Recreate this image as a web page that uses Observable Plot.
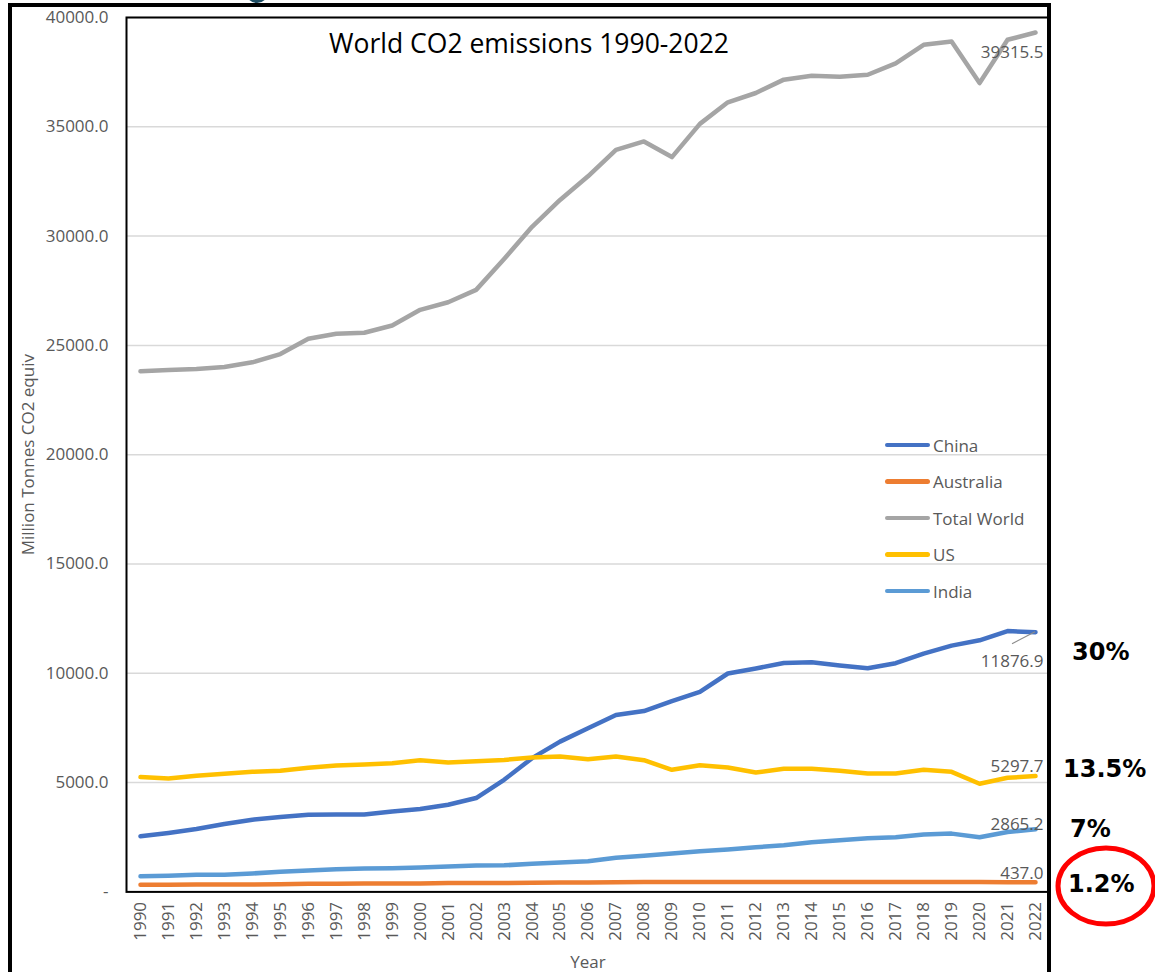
<!DOCTYPE html>
<html>
<head>
<meta charset="utf-8">
<script src="https://cdn.jsdelivr.net/npm/d3@7"></script>
<script src="https://cdn.jsdelivr.net/npm/@observablehq/plot@0.6"></script>
<style>
  body { margin: 0; background: #fff; overflow: hidden; font-family: "Open Sans", sans-serif; }
  #wrap { position: relative; width: 1155px; height: 972px; overflow: hidden; background: #fff; }
  #chart { position: absolute; left: 0; top: 0; }
  .outer { position: absolute; left: 8px; top: 3px; width: 1043px; height: 1000px; border: 4px solid #000; border-bottom: none; box-sizing: border-box; pointer-events: none; }
  .blob { position: absolute; left: 246px; top: -18px; width: 22px; height: 21px; border-radius: 50%; background: #1d4d63; }
  .title { position: absolute; left: 529px; top: 43px; transform: translate(-50%, -50%); font-size: 26.5px; line-height: 1; color: #000; white-space: nowrap; }
  .legend { position: absolute; left: 0; top: 0; }
  .leg { position: absolute; left: 885px; height: 24px; display: flex; align-items: center; transform: translateY(-50%); white-space: nowrap; }
  .leg .sw { width: 45px; height: 4.5px; border-radius: 3px; margin-right: 3px; flex: none; }
  .leg span { font-size: 17px; color: #595959; line-height: 1; white-space: nowrap; }
  .pct { position: absolute; font-family: "DejaVu Sans", sans-serif; font-weight: bold; font-size: 24px; line-height: 1; color: #000; transform: translateY(-50%); white-space: nowrap; }
  #ring { position: absolute; left: 0; top: 0; }
</style>
</head>
<body>
<div id="wrap">
  <div id="chart"></div>
  <div class="outer"></div>
  <div class="blob"></div>
  <div class="title">World CO2 emissions 1990-2022</div>
  <div class="legend" id="legend"></div>
  <div id="pcts"></div>
  <svg id="ring" width="1155" height="972"><ellipse cx="1106" cy="886" rx="48" ry="38" fill="none" stroke="#ff0000" stroke-width="5"/></svg>
</div>
<script>
const years = [1990,1991,1992,1993,1994,1995,1996,1997,1998,1999,2000,2001,2002,2003,2004,2005,2006,2007,2008,2009,2010,2011,2012,2013,2014,2015,2016,2017,2018,2019,2020,2021,2022];

const seriesNames = ["China", "Australia", "Total World", "US", "India"];
const seriesColors = ["#4472C4", "#ED7D31", "#A5A5A5", "#FFC000", "#5B9BD5"];

const china = [2543,2698,2880,3108,3305,3428,3532,3540,3540,3683,3792,3988,4294,5128,6117,6874,7484,8090,8273,8729,9153,9991,10219,10474,10506,10356,10233,10460,10903,11267,11509,11933,11876.9];
const australia = [330,330,335,335,340,345,370,375,385,390,390,405,410,410,420,425,430,445,450,455,455,455,455,455,455,455,455,455,455,455,450,437,437.0];
const totalWorld = [23815,23875,23920,24012,24226,24604,25306,25534,25580,25912,26628,26974,27540,28952,30425,31655,32736,33948,34331,33615,35133,36122,36546,37157,37339,37293,37380,37900,38752,38902,37002,38980,39315.5];
const us = [5251,5187,5310,5401,5492,5538,5675,5780,5825,5889,6026,5916,5980,6039,6144,6190,6071,6190,6026,5584,5798,5689,5461,5629,5629,5538,5415,5415,5584,5492,4945,5219,5297.7];
const india = [720,738,784,790,843,920,980,1039,1071,1080,1117,1162,1208,1215,1285,1340,1400,1559,1650,1760,1860,1937,2042,2133,2270,2361,2452,2498,2621,2666,2498,2744,2865.2];

const yTicks = [0,5000,10000,15000,20000,25000,30000,35000,40000];
const shareLabels = ["30%", "13.5%", "7%", "1.2%"];

const seriesValues = [china, australia, totalWorld, us, india];
const data = [];
seriesNames.forEach((name, s) => years.forEach((yr, i) => data.push({year: yr, value: seriesValues[s][i], series: name})));
const last = (name) => data.filter(d => d.series === name && d.year === years[years.length - 1]);

const lblStyle = {x: "year", y: "value", text: d => d.value.toFixed(1), textAnchor: "end", fill: "#595959", fontSize: 17};

const chart = Plot.plot({
  width: 1155,
  height: 972,
  marginLeft: 126,
  marginRight: 106,
  marginTop: 17,
  marginBottom: 80.6,
  style: {fontFamily: "Open Sans", fontSize: "17px", background: "transparent", color: "#595959"},
  x: {type: "point", domain: years, padding: 0.5},
  y: {domain: [0, 40000]},
  color: {domain: seriesNames, range: seriesColors},
  marks: [
    Plot.gridY(yTicks.filter(d => d > 0), {stroke: "#d9d9d9", strokeOpacity: 1, strokeWidth: 1.5}),
    Plot.axisY(yTicks, {tickSize: 0, tickPadding: 18, tickFormat: d => d === 0 ? "-" : d.toFixed(1), fill: "#595959", fontSize: 17,
      label: "Million Tonnes CO2 equiv", labelAnchor: "center", labelOffset: 105, labelArrow: "none"}),
    Plot.axisX(years, {tickRotate: -90, tickSize: 0, tickPadding: 10, tickFormat: d => String(d), fill: "#595959", fontSize: 17,
      label: "Year", labelAnchor: "center", labelOffset: 76, labelArrow: "none"}),
    Plot.frame({stroke: "#000", strokeWidth: 2}),
    Plot.line(data, {x: "year", y: "value", z: "series", stroke: "series", strokeWidth: 4.5, strokeLinejoin: "round", strokeLinecap: "round"}),
    Plot.text(last("Total World"), {...lblStyle, dx: 8, dy: 20}),
    Plot.text(last("China"), {...lblStyle, dx: 8, dy: 29}),
    Plot.text(last("US"), {...lblStyle, dx: 8, dy: -9.5}),
    Plot.text(last("India"), {...lblStyle, dx: 8, dy: -5}),
    Plot.text(last("Australia"), {...lblStyle, dx: 8, dy: -9}),
    (index, scales) => {
      const d = last("China")[0];
      const px = scales.x(d.year), py = scales.y(d.value);
      return d3.create("svg:line")
        .attr("x1", px).attr("y1", py)
        .attr("x2", px - 23).attr("y2", py + 12)
        .attr("stroke", "#8c8c8c").attr("stroke-width", 1.2).node();
    }
  ]
});
document.getElementById("chart").appendChild(chart);

// legend
const legendY = [445, 481.5, 518, 554.5, 591];
const legend = document.getElementById("legend");
seriesNames.forEach((name, i) => {
  const row = document.createElement("div");
  row.className = "leg";
  row.style.top = legendY[i] + "px";
  row.innerHTML = `<div class="sw" style="background:${seriesColors[i]}"></div><span>${name}</span>`;
  legend.appendChild(row);
});

// share annotations
const pctPos = [[1072, 652], [1063, 769], [1070, 829], [1068, 884]];
const pcts = document.getElementById("pcts");
shareLabels.forEach((t, i) => {
  const el = document.createElement("div");
  el.className = "pct";
  el.style.left = pctPos[i][0] + "px";
  el.style.top = pctPos[i][1] + "px";
  el.textContent = t;
  pcts.appendChild(el);
});
</script>
</body>
</html>
